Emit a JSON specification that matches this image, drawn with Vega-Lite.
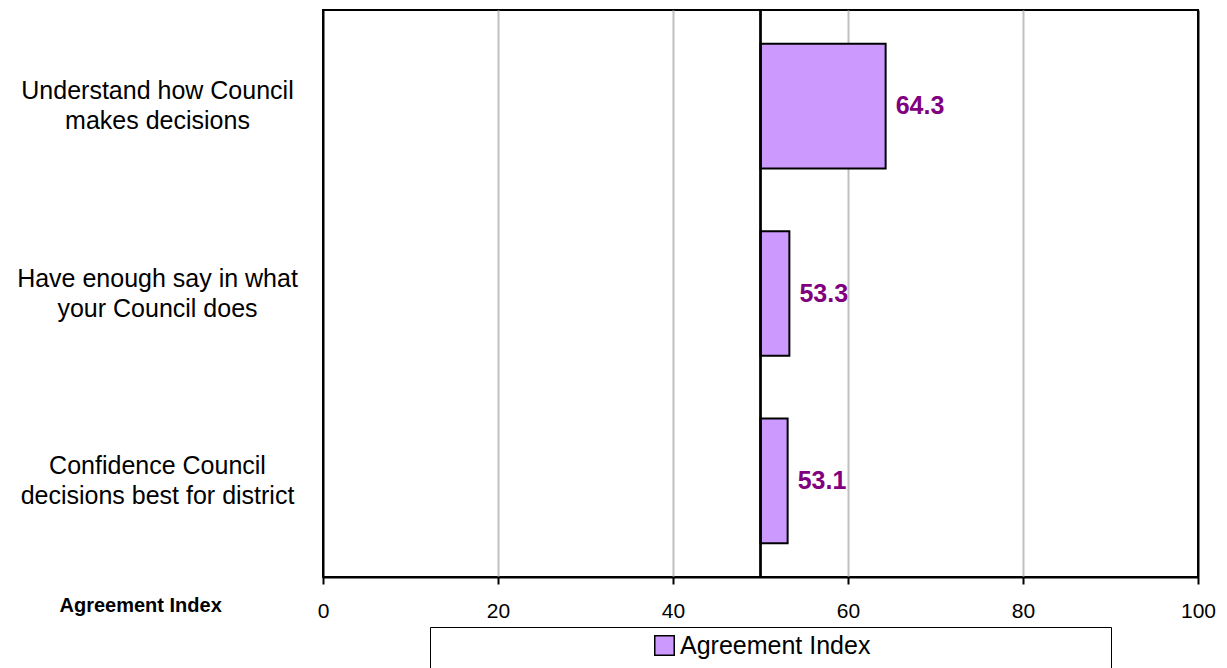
{
  "$schema": "https://vega.github.io/schema/vega-lite/v6.json",
  "autosize": "none",
  "width": 875,
  "height": 567,
  "padding": {"left": 323, "top": 10, "right": 29, "bottom": 91},
  "background": "white",
  "config": {
    "font": "Liberation Sans",
    "view": {"stroke": "black", "strokeWidth": 2}
  },
  "data": {
    "values": [
      {"question": "Understand how Council\nmakes decisions", "value": 64.3, "series": "Agreement Index"},
      {"question": "Have enough say in what\nyour Council does", "value": 53.3, "series": "Agreement Index"},
      {"question": "Confidence Council\ndecisions best for district", "value": 53.1, "series": "Agreement Index"}
    ]
  },
  "layer": [
    {
      "mark": {"type": "bar", "stroke": "black", "strokeWidth": 2},
      "encoding": {
        "y": {
          "field": "question",
          "type": "nominal",
          "sort": null,
          "scale": {"paddingInner": 0.335, "paddingOuter": 0.18},
          "axis": {
            "title": null,
            "domain": false,
            "ticks": false,
            "tickSize": 0,
            "labelPadding": 166,
            "labelOffset": -15,
            "labelAlign": "center",
            "labelBaseline": "middle",
            "labelFontSize": 25,
            "labelLineHeight": 30,
            "labelColor": "black",
            "labelLimit": 400,
            "labelExpr": "split(datum.label, '\\n')"
          }
        },
        "x": {
          "field": "value",
          "type": "quantitative",
          "scale": {"domain": [0, 100], "nice": false},
          "axis": {
            "values": [0, 20, 40, 60, 80, 100],
            "title": "Agreement Index",
            "titleAnchor": "start",
            "titleAlign": "left",
            "titleX": -264,
            "titleY": 28,
            "titleBaseline": "middle",
            "titleFontSize": 20,
            "titleFontWeight": "bold",
            "titleColor": "black",
            "domainColor": "black",
            "domainWidth": 2,
            "tickColor": "black",
            "tickWidth": 2,
            "tickSize": 7,
            "labelFontSize": 21,
            "labelColor": "black",
            "labelPadding": 16,
            "labelFlush": false,
            "grid": true,
            "gridColor": {"condition": {"test": "datum.value == 0 || datum.value == 100", "value": "black"}, "value": "#c0c0c0"},
            "gridWidth": 2
          }
        },
        "x2": {"datum": 50},
        "color": {
          "field": "series",
          "type": "nominal",
          "scale": {"range": ["#CC99FF"]},
          "legend": {
            "orient": "none",
            "legendX": 107,
            "legendY": 617,
            "direction": "horizontal",
            "padding": 6,
            "strokeColor": "black",
            "fillColor": "white",
            "title": "\u00a0",
            "titleOrient": "left",
            "titlePadding": 216,
            "titleFontSize": 34,
            "symbolType": "square",
            "symbolSize": 380,
            "symbolStrokeColor": "black",
            "symbolStrokeWidth": 1.5,
            "symbolOpacity": 1,
            "labelFontSize": 25,
            "labelColor": "black",
            "labelOffset": 3,
            "labelLimit": 800,
            "labelExpr": "datum.label + '\u2800\u2800\u2800\u2800\u2800\u2800\u2800\u2800\u2800\u2800\u2800\u2800\u2800'"
          }
        }
      }
    },
    {
      "mark": {"type": "rule", "color": "black", "strokeWidth": 2},
      "encoding": {"x": {"datum": 50}}
    },
    {
      "mark": {"type": "text", "align": "left", "baseline": "middle", "dx": 10, "fontSize": 25, "fontWeight": "bold", "color": "#800080"},
      "encoding": {
        "y": {"field": "question", "type": "nominal", "sort": null},
        "x": {"field": "value", "type": "quantitative"},
        "text": {"field": "value", "type": "quantitative", "format": ".1f"}
      }
    }
  ]
}
